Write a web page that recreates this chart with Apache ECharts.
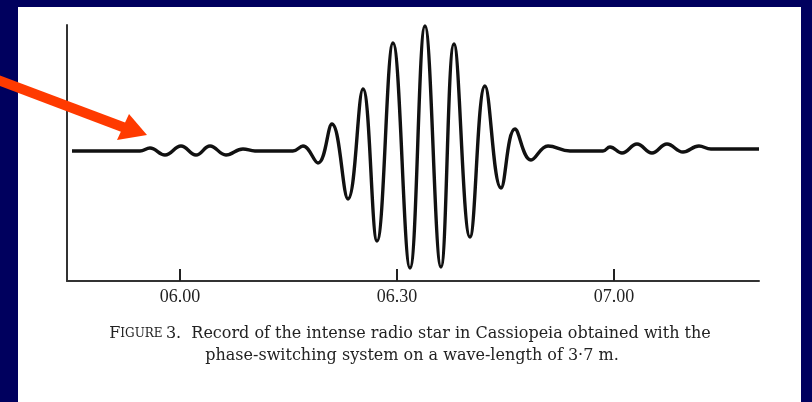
<!DOCTYPE html>
<html>
<head>
<meta charset="utf-8">
<script src="https://cdn.jsdelivr.net/npm/echarts@6/dist/echarts.min.js"></script>
<style>
html,body{margin:0;padding:0;background:#00005e;}
#c{width:812px;height:402px;}
</style>
</head>
<body>
<div id="c"></div>
<script>
// Time in minutes after 06.00 (turning points read from the record)
var times = [-14.93,-5.53,-4.15,-2.07,0.14,2.21,4.15,6.36,8.71,10.37,
  15.62,17.00,19.08,21.01,23.23,25.30,27.24,29.45,31.80,33.87,36.08,37.88,40.09,42.17,44.38,46.31,48.53,50.88,53.92,
  58.48,59.45,61.11,63.18,65.25,67.33,69.54,71.75,73.40,80.05];
// Recorder deflection (arbitrary units)
var deflection = [0,0,3,-4,5,-4,5,-4,2,0,
  0,5,-12,27,-48,62,-90,108,-117,125,-116,107,-86,65,-37,22,-9,5,0,
  0,4,-2,7,-2,7,-1,5,2,2];
var tickValues = [0,30,60];
var tickLabels = ['06.00','06.30','07.00'];
var captionLine1 = 'Record of the intense radio star in Cassiopeia obtained with the';
var captionLine2 = 'phase-switching system on a wave-length of 3\u00b77 m.';

var chart = echarts.init(document.getElementById('c'), null, {renderer:'canvas'});
var pts = times.map(function(t,i){return [t, deflection[i]];});
chart.setOption({
  backgroundColor: '#00005e',
  animation: false,
  grid: {left: 67, right: 53, top: 25, bottom: 121, containLabel: false},
  xAxis: {
    type: 'value', min: -15.62, max: 80.05,
    splitLine: {show: false},
    axisLine: {show: true, onZero: false, lineStyle: {color: '#333', width: 2}},
    axisTick: {show: true, inside: true, length: 12, customValues: tickValues, lineStyle: {color: '#222', width: 2}},
    axisLabel: {show: true, customValues: tickValues, margin: 7,
      formatter: function(v){ var i = tickValues.indexOf(v); return i >= 0 ? tickLabels[i] : ''; },
      fontFamily: 'Liberation Serif', fontSize: 18, color: '#222'}
  },
  yAxis: {
    type: 'value', min: -130, max: 126,
    splitLine: {show: false},
    axisLine: {show: true, onZero: false, lineStyle: {color: '#333', width: 2}},
    axisTick: {show: false},
    axisLabel: {show: false}
  },
  series: [{
    type: 'line', data: pts, smooth: 0.42, symbol: 'none',
    lineStyle: {color: '#111', width: 3.4}
  }],
  graphic: [
    {type: 'rect', z: -10, shape: {x: 18, y: 7, width: 783, height: 395}, style: {fill: '#ffffff'}},
    {type: 'line', z: 50, shape: {x1: -2, y1: 80, x2: 124, y2: 127.5}, style: {stroke: '#ff3a00', lineWidth: 10}},
    {type: 'polygon', z: 50, shape: {points: [[117, 140], [129, 114], [147, 135]]}, style: {fill: '#ff3a00'}},
    {type: 'text', z: 50, x: 410, y: 334, style: {
      text: '{a|F}{b|IGURE} {c|3.  ' + captionLine1 + '}',
      align: 'center', verticalAlign: 'middle',
      rich: {
        a: {fontFamily: 'DejaVu Serif', fontSize: 16, fill: '#222'},
        b: {fontFamily: 'DejaVu Serif', fontSize: 12, fill: '#222'},
        c: {fontFamily: 'DejaVu Serif', fontSize: 16, fill: '#222'}
      }
    }},
    {type: 'text', z: 50, x: 412, y: 356, style: {
      text: captionLine2, align: 'center', verticalAlign: 'middle',
      font: '16px "DejaVu Serif"', fill: '#222'
    }}
  ]
});
</script>
</body>
</html>
